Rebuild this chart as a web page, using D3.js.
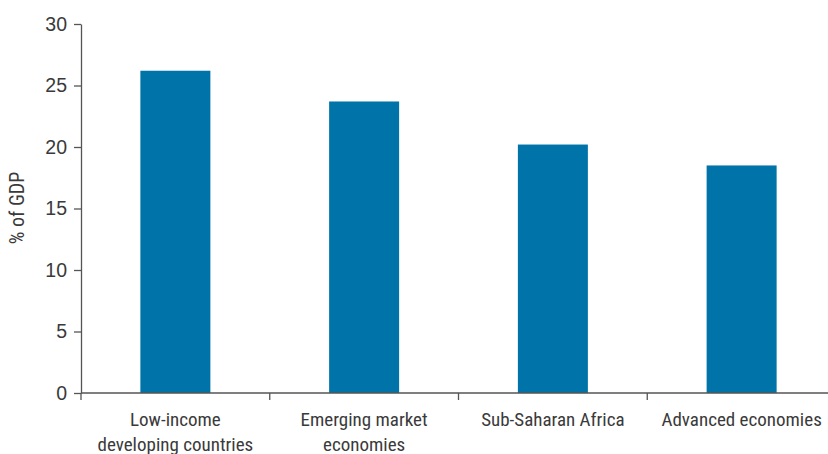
<!DOCTYPE html>
<html><head><meta charset="utf-8">
<script src="https://cdn.jsdelivr.net/npm/d3@7"></script>
<style>
body{margin:0;background:#fff;}
text{font-family:"Liberation Sans Narrow","Arial Narrow","Roboto Condensed",sans-serif;fill:#3a3a3a;}
</style></head><body>
<svg id="c" width="828" height="454"></svg>
<script>
const categories = [["Low-income","developing countries"],["Emerging market","economies"],["Sub-Saharan Africa"],["Advanced economies"]];
const values = [26.2, 23.7, 20.2, 18.5];
const yTicks = [0,5,10,15,20,25,30];
const yLabel = "% of GDP";

const svg = d3.select("#c");
const x0 = 81, y0 = 393, yTop = 24;
const keys = categories.map((c,i)=>i);
const x = d3.scaleBand().domain(keys).range([x0, 836]).paddingInner(0).paddingOuter(0);
const y = d3.scaleLinear().domain([0,30]).range([y0, yTop]);
const barW = 70;

svg.selectAll("rect.bar").data(values).enter().append("rect")
  .attr("x",(d,i)=>x(i)+x.bandwidth()/2-barW/2)
  .attr("width",barW)
  .attr("y",d=>y(d))
  .attr("height",d=>y0-y(d))
  .attr("fill","#0073A8");

// y axis
const ya = svg.append("g").attr("transform",`translate(${x0},0)`)
  .call(d3.axisLeft(y).tickValues(yTicks).tickSize(7).tickSizeOuter(0).tickPadding(7));
ya.select(".domain").attr("stroke","#555").attr("stroke-width",1.3);
ya.selectAll(".tick line").attr("stroke","#555").attr("stroke-width",1.3);
ya.selectAll(".tick text").attr("font-size",19.5).style("fill","#3a3a3a")
  .style("font-family",'"Liberation Sans Narrow","Arial Narrow",sans-serif');

// x axis: ticks at band boundaries
const xa = svg.append("g").attr("transform",`translate(0,${y0})`);
xa.append("line").attr("x1",x0).attr("x2",828).attr("y1",0).attr("y2",0).attr("stroke","#555").attr("stroke-width",1.3);
const bounds = keys.map(k=>x(k)).concat([x.range()[1]]);
xa.selectAll("line.t").data(bounds).enter().append("line")
  .attr("x1",d=>d).attr("x2",d=>d).attr("y1",0).attr("y2",7).attr("stroke","#555").attr("stroke-width",1.3);
categories.forEach((lines,i)=>{
  const t = xa.append("text").attr("text-anchor","middle").attr("font-size",19)
    .attr("x", x(i)+x.bandwidth()/2).attr("y",33);
  lines.forEach((l,j)=>t.append("tspan").attr("x",x(i)+x.bandwidth()/2).attr("dy",j===0?0:25).text(l));
});

svg.append("text").attr("transform","translate(24,208) rotate(-90)")
  .attr("text-anchor","middle").attr("font-size",20).text(yLabel);
</script></body></html>
